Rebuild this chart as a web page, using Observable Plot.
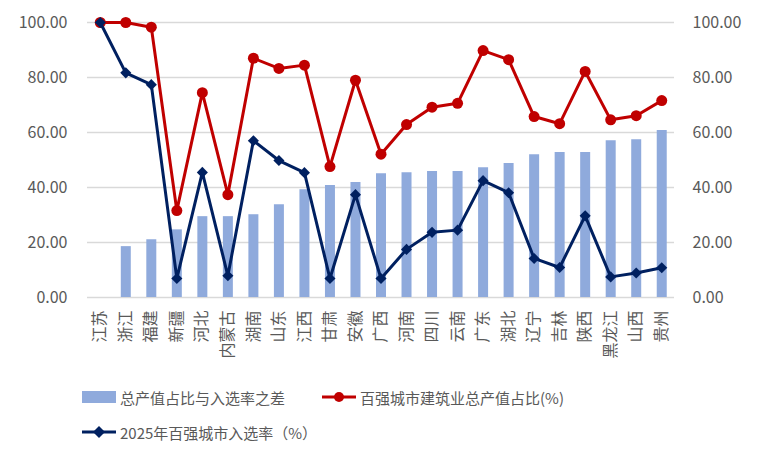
<!DOCTYPE html>
<html>
<head>
<meta charset="utf-8">
<script src="https://cdn.jsdelivr.net/npm/d3@7"></script>
<script src="https://cdn.jsdelivr.net/npm/@observablehq/plot@0.6"></script>
<style>
  body { margin: 0; background: #fff; }
  #wrap { position: relative; width: 762px; height: 459px; font-family: "Noto Sans CJK SC", "Noto Sans", sans-serif; color: #595959; }
  .lg { position: absolute; display: flex; align-items: center; font-size: 15px; white-space: nowrap; }
  .lg svg { margin-right: 4px; }
</style>
</head>
<body>
<div id="wrap"></div>
<script>
const provinces = ["江苏","浙江","福建","新疆","河北","内蒙古","湖南","山东","江西","甘肃","安徽","广西","河南","四川","云南","广东","湖北","辽宁","吉林","陕西","黑龙江","山西","贵州"];
const gapValues   = [0,18.5,21.0,24.6,29.4,29.4,30.1,33.7,39.2,40.7,41.8,45.0,45.4,45.8,45.8,47.2,48.7,51.9,52.7,52.7,57.0,57.4,60.7];
const shareValues = [100,100,98.3,31.6,74.5,37.4,87.0,83.3,84.5,47.6,79.0,52.1,62.9,69.2,70.6,89.8,86.5,65.8,63.2,82.2,64.6,66.1,71.6];
const rateValues  = [100,81.7,77.4,6.9,45.5,7.9,57.0,49.8,45.4,6.9,37.4,6.9,17.5,23.7,24.5,42.5,38.1,14.2,10.9,29.7,7.5,8.9,10.8];
const yTicks = [0,20,40,60,80,100];
const seriesNames = ["总产值占比与入选率之差","百强城市建筑业总产值占比(%)","2025年百强城市入选率（%）"];

const data = provinces.map((p, i) => ({p, gap: gapValues[i], share: shareValues[i], rate: rateValues[i]}));

const BAR = "#8faadc", RED = "#c00000", NAVY = "#002060", GRID = "#d9d9d9", TXT = "#595959";

const chart = Plot.plot({
  width: 762,
  height: 380,
  marginTop: 22,
  marginBottom: 83,
  marginLeft: 87,
  marginRight: 88,
  style: {fontFamily: '"Noto Sans CJK SC", "Noto Sans", sans-serif', color: TXT, background: "#fff"},
  x: {type: "point", domain: provinces, padding: 0.5, round: false},
  y: {domain: [0, 100]},
  marks: [
    Plot.gridY(yTicks, {stroke: GRID, strokeOpacity: 1, strokeWidth: 1.5}),
    Plot.ruleX(data, {x: "p", y1: 0, y2: "gap", stroke: BAR, strokeWidth: 10}),
    Plot.line(data, {x: "p", y: "share", stroke: RED, strokeWidth: 3}),
    Plot.dot(data, {x: "p", y: "share", fill: RED, r: 5.5, symbol: "circle"}),
    Plot.line(data, {x: "p", y: "rate", stroke: NAVY, strokeWidth: 3}),
    Plot.dot(data, {x: "p", y: "rate", fill: NAVY, r: 5, symbol: "diamond2"}),
    Plot.axisY(yTicks, {anchor: "left", tickSize: 0, tickPadding: 20, tickFormat: d => d.toFixed(2), fontSize: 16, fill: TXT, label: null}),
    Plot.axisY(yTicks, {anchor: "right", tickSize: 0, tickPadding: 18, tickFormat: d => d.toFixed(2), fontSize: 16, fill: TXT, label: null}),
    Plot.axisX({tickSize: 0, tickPadding: 13, tickRotate: -90, fontSize: 16, fill: TXT, label: null})
  ]
});
const wrap = document.getElementById("wrap");
wrap.appendChild(chart);

function legendItem(x, y, kind, text) {
  const d = document.createElement("div");
  d.className = "lg";
  d.style.left = x + "px";
  d.style.top = (y - 11) + "px";
  let sym;
  if (kind === "bar") sym = `<svg width="34" height="22"><rect x="0" y="5" width="34" height="12" fill="${BAR}"/></svg>`;
  else if (kind === "red") sym = `<svg width="34" height="22"><line x1="0" y1="11" x2="34" y2="11" stroke="${RED}" stroke-width="3"/><circle cx="17" cy="11" r="5" fill="${RED}"/></svg>`;
  else sym = `<svg width="34" height="22"><line x1="0" y1="11" x2="34" y2="11" stroke="${NAVY}" stroke-width="3"/><path d="M17 5 L23 11 L17 17 L11 11 Z" fill="${NAVY}"/></svg>`;
  d.innerHTML = sym + `<span>${text}</span>`;
  wrap.appendChild(d);
}
legendItem(82, 397, "bar", seriesNames[0]);
legendItem(322, 397, "red", seriesNames[1]);
legendItem(82, 432, "navy", seriesNames[2]);
</script>
</body>
</html>
